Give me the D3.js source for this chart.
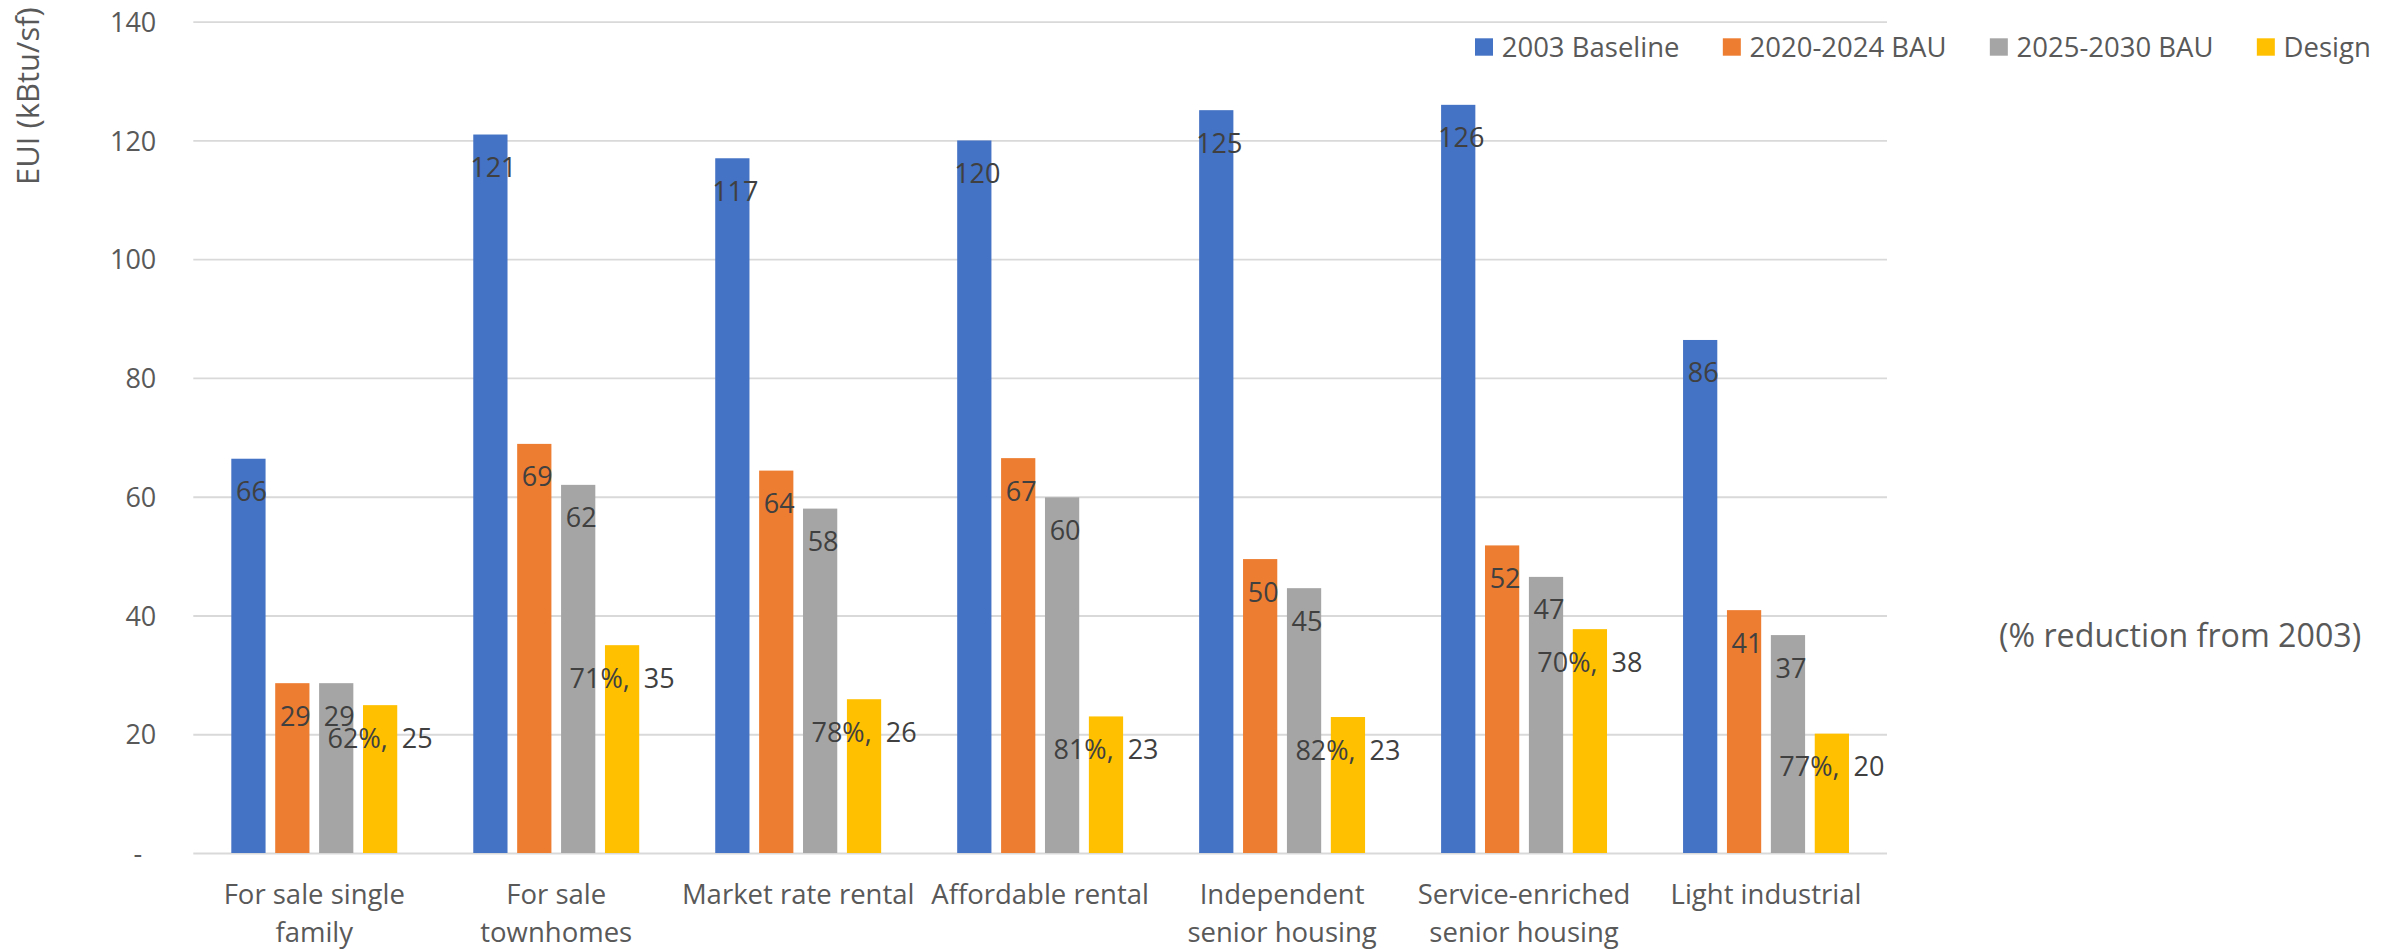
<!DOCTYPE html>
<html><head><meta charset="utf-8">
<script src="https://cdn.jsdelivr.net/npm/d3@7"></script>
<style>
html,body{margin:0;padding:0;background:#fff;}
svg{display:block;font-family:"Open Sans",sans-serif;}
</style></head><body>
<svg id="chart" width="2407" height="949"></svg>
<script>
// ---- data ----
const categories = ["For sale single family","For sale townhomes","Market rate rental","Affordable rental","Independent senior housing","Service-enriched senior housing","Light industrial"];
const seriesNames = ["2003 Baseline","2020-2024 BAU","2025-2030 BAU","Design"];
const baseline2003 = [66.4,121.0,117.0,120.0,125.1,126.0,86.4];
const bau2020 = [28.6,68.9,64.4,66.5,49.5,51.8,40.9];
const bau2025 = [28.6,62.0,58.0,59.9,44.6,46.5,36.7];
const design = [24.9,35.0,25.9,23.0,22.9,37.7,20.1];
const reductionPct = ["62%","71%","78%","81%","82%","70%","77%"];
const yTicks = [0,20,40,60,80,100,120,140];
const yTitle = "EUI (kBtu/sf)";
const noteText = "(% reduction from 2003)";
const colors = ["#4472C4","#ED7D31","#A5A5A5","#FFC000"];

const seriesValues = [baseline2003, bau2020, bau2025, design];
const rows = categories.map((c,i)=>({cat:c, vals:seriesValues.map((s,k)=>({name:seriesNames[k], k, v:s[i], i}))}));

// ---- layout ----
const svg = d3.select("#chart");
const plotL = 193.3, plotR = 1887, plotTop = 21.7, plotBot = 853;
const gridColor = "#D9D9D9", axisText = "#595959", labelText = "#404040";

const y = d3.scaleLinear().domain([0,140]).range([plotBot, plotTop]);
const x0 = d3.scaleBand().domain(categories).range([plotL, plotR]).padding(0);
const x1 = d3.scaleBand().domain(seriesNames).range([0, x0.bandwidth()]).paddingInner(0.22).paddingOuter(0.866);
const color = d3.scaleOrdinal().domain(seriesNames).range(colors);

// y axis + gridlines
const yAxis = svg.append("g").attr("transform",`translate(${plotL},0)`)
  .call(d3.axisLeft(y).tickValues(yTicks).tickSize(-(plotR-plotL)).tickPadding(37)
        .tickFormat(d=> d===0 ? "-" : d));
yAxis.select(".domain").remove();
yAxis.selectAll(".tick line").attr("stroke",gridColor).attr("stroke-width",1.8);
yAxis.selectAll(".tick text").attr("fill",axisText).style("font-size","27px")
  .style("font-family","'Open Sans',sans-serif").attr("dy","0.36em")
  .attr("dx", d=> d===0 ? -14 : 0);

// bars
const groups = svg.append("g").selectAll("g").data(rows).join("g")
  .attr("transform", d=>`translate(${x0(d.cat)},0)`);
groups.selectAll("rect").data(d=>d.vals).join("rect")
  .attr("x", d=>x1(d.name)).attr("width", x1.bandwidth())
  .attr("y", d=>y(d.v)).attr("height", d=>y(0)-y(d.v))
  .attr("fill", d=>color(d.name));

// data labels
groups.selectAll("text.lbl").data(d=>d.vals).join("text").attr("class","lbl")
  .attr("x", d=> x1(d.name)+x1.bandwidth()/2 + (d.k<3 ? 3 : 0))
  .attr("y", d=> y(d.v)+42.5)
  .attr("text-anchor","middle")
  .attr("fill",labelText).style("font-size","27px")
  .text(d=> d.k<3 ? Math.round(d.v) : reductionPct[d.i] + ",\u00A0\u00A0" + Math.round(d.v));

// category labels with wrap
const maxW = x0.bandwidth();
categories.forEach(c=>{
  const t = svg.append("text").attr("text-anchor","middle").attr("fill",axisText)
    .style("font-size","27.5px").attr("x", x0(c)+x0.bandwidth()/2).attr("y", 904);
  const words = c.split(" ");
  let lines = [], cur = [];
  const probe = t.append("tspan");
  words.forEach(w=>{
    const test = cur.concat([w]).join(" ");
    probe.text(test);
    if (probe.node().getComputedTextLength() > maxW && cur.length){
      lines.push(cur.join(" ")); cur=[w];
    } else cur.push(w);
  });
  lines.push(cur.join(" "));
  probe.remove();
  lines.forEach((ln,j)=>{
    t.append("tspan").attr("x", x0(c)+x0.bandwidth()/2).attr("y", 904 + j*37.7).text(ln);
  });
});

// y title
svg.append("text").attr("transform","translate(39.3,185) rotate(-90)")
  .attr("fill",axisText).style("font-size","31px").text(yTitle);

// note
svg.append("text").attr("x",1999).attr("y",646.7).attr("fill",axisText)
  .style("font-size","32.2px").text(noteText);

// legend
let lx = 1475;
const leg = svg.append("g");
seriesNames.forEach((s,k)=>{
  leg.append("rect").attr("x",lx).attr("y",38.3).attr("width",18).attr("height",17.4).attr("fill",color(s));
  const t = leg.append("text").attr("x",lx+26.7).attr("y",56.7).attr("fill",axisText)
    .style("font-size","27.5px").text(s);
  lx = lx + 26.7 + t.node().getComputedTextLength() + 43.3;
});
</script>
</body></html>
